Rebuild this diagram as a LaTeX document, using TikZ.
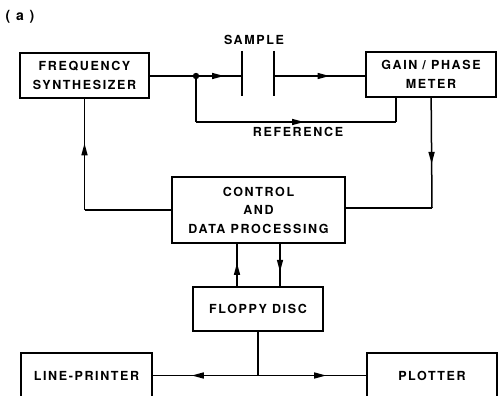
\documentclass[tikz,border=0pt]{standalone}
\usepackage{fontspec}
\newfontfamily\lblfont{TeX Gyre Heros}[LetterSpace=13]
\usetikzlibrary{arrows.meta,decorations.markings}
\newcommand\lbl{\lblfont\bfseries\fontsize{12.5}{18.5}\selectfont}
\tikzset{
  blk/.style={draw, line width=1.7pt, inner sep=0pt, align=center, font=\lbl},
  tag/.style={font=\lbl, inner sep=0pt},
  wire/.style={line width=1.5pt},
  plate/.style={line width=1.9pt},
  midarr/.style={postaction={decorate},
    decoration={markings, mark=at position #1 with {\arrow{Triangle[length=12pt,width=6pt]}}}},
}
\begin{document}
\begin{tikzpicture}[x=1pt, y=-1pt]
\useasboundingbox (0,0) rectangle (498,396);
\clip (0,0) rectangle (498,396);

% blocks
\node[blk, minimum width=129pt, minimum height=45pt] (fs) at (84.5,75.5) {FREQUENCY\\SYNTHESIZER};
\node[blk, minimum width=130pt, minimum height=45pt] (gp) at (431,74.5) {GAIN / PHASE\\METER};
\node[blk, minimum width=173pt, minimum height=66pt] (ctl) at (258.5,210) {CONTROL\\AND\\DATA PROCESSING};
\node[blk, minimum width=130pt, minimum height=44pt] (fd) at (258,309) {FLOPPY DISC};
\node[blk, minimum width=131pt, minimum height=45pt] (lp) at (86.5,375.5) {LINE-PRINTER};
\node[blk, minimum width=130pt, minimum height=45pt] (pl) at (432,375.5) {PLOTTER};

% labels
\node[tag, font=\lbl\fontsize{14}{16}\selectfont] (lab) at (20,17) {( a )};
\node[tag] (smp) at (254,40) {SAMPLE};
\node[tag] (ref) at (298,132) {REFERENCE};

% sample cell: two plates
\coordinate (dot) at (196,76);
\coordinate (p1) at (242,76);
\coordinate (p2) at (274,76);
\draw[plate] (242,51) -- (242,96);
\draw[plate] (274,51) -- (274,96);

% signal path
\draw[wire] (fs.east |- dot) -- (dot);
\fill (dot) circle (3.2pt);
\draw[wire, midarr=0.61] (dot) -- (p1);
\draw[wire, midarr=0.61] (p2) -- (p2 -| gp.west);

% reference path
\coordinate (refin) at ([xshift=31pt]gp.south west);
\coordinate (refL) at (196,122);
\coordinate (refR) at (refin |- refL);
\draw[wire] (dot) -- (refL);
\draw[wire, midarr=0.54] (refL) -- (refR);
\draw[wire] (refR) -- (refin);

% meter to control
\coordinate (gpout) at ([xshift=66pt]gp.south west);
\coordinate (c1) at (432,208);
\draw[wire, midarr=0.6] (gpout) -- (c1);
\draw[wire] (c1) -- (c1 -| ctl.east);

% control to synthesizer
\coordinate (c2) at (fs.south |- ctl.west);
\draw[wire] (ctl.west) -- (c2);
\draw[wire, midarr=0.6] (c2) -- (fs.south);

% control <-> floppy disc
\coordinate (ua) at ([xshift=-21.5pt]ctl.south);
\coordinate (da) at ([xshift=21.5pt]ctl.south);
\draw[wire, midarr=0.55] (ua |- fd.north) -- (ua);
\draw[wire, midarr=0.66] (da) -- (da |- fd.north);

% floppy disc to printer and plotter
\coordinate (jn) at (fd.south |- lp.east);
\draw[wire] (fd.south) -- (jn);
\draw[wire, midarr=0.63] (jn) -- (lp.east);
\draw[wire, midarr=0.63] (jn) -- (pl.west);
\end{tikzpicture}
\end{document}
